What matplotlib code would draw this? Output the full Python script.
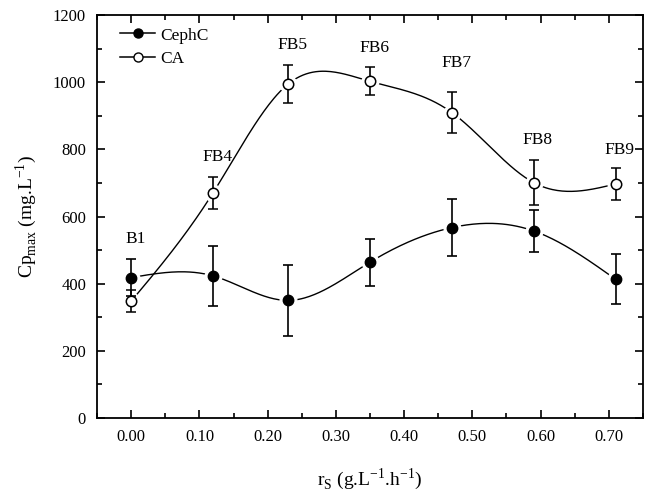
import numpy as np
import matplotlib
matplotlib.use("Agg")
import matplotlib.pyplot as plt
from matplotlib.ticker import MultipleLocator, FormatStrFormatter

plt.rcParams['font.family'] = ['Liberation Serif', 'DejaVu Serif']
plt.rcParams['mathtext.fontset'] = 'custom'
plt.rcParams['mathtext.rm'] = 'Liberation Serif'

rs = [0.00, 0.12, 0.23, 0.35, 0.47, 0.59, 0.71]
cephc = [418, 423, 350, 464, 567, 557, 413]
cephc_err = [55, 90, 105, 70, 85, 62, 75]
ca = [348, 671, 995, 1003, 910, 701, 697]
ca_err = [33, 48, 57, 42, 60, 66, 49]
labels = ['B1', 'FB4', 'FB5', 'FB6', 'FB7', 'FB8', 'FB9']
label_y = [533, 777, 1111, 1103, 1058, 828, 798]


def spline(x, y, n=300):
    # natural cubic spline through the points
    x = np.asarray(x, float)
    y = np.asarray(y, float)
    k = len(x)
    h = np.diff(x)
    A = np.zeros((k, k))
    b = np.zeros(k)
    A[0, 0] = A[-1, -1] = 1
    for i in range(1, k - 1):
        A[i, i - 1] = h[i - 1]
        A[i, i] = 2 * (h[i - 1] + h[i])
        A[i, i + 1] = h[i]
        b[i] = 6 * ((y[i + 1] - y[i]) / h[i] - (y[i] - y[i - 1]) / h[i - 1])
    M = np.linalg.solve(A, b)
    xs = np.linspace(x[0], x[-1], n)
    idx = np.clip(np.searchsorted(x, xs) - 1, 0, k - 2)
    x0, x1 = x[idx], x[idx + 1]
    hh = x1 - x0
    t0, t1 = x1 - xs, xs - x0
    ys = (M[idx] * t0 ** 3 + M[idx + 1] * t1 ** 3) / (6 * hh) \
        + (y[idx] / hh - M[idx] * hh / 6) * t0 \
        + (y[idx + 1] / hh - M[idx + 1] * hh / 6) * t1
    return xs, ys


fig, ax = plt.subplots(figsize=(6.52, 4.91), dpi=100)
fig.subplots_adjust(left=0.149, right=0.986, top=0.969, bottom=0.149)

for yv in (cephc, ca):
    xs, ys = spline(rs, yv)
    ax.plot(xs, ys, color='black', lw=1.0, zorder=2)

# white halo behind markers to break the curves like the original
ax.plot(rs, cephc, 'o', ms=12, color='white', mec='white', zorder=3)
ax.plot(rs, ca, 'o', ms=12, color='white', mec='white', zorder=3)

ax.errorbar(rs, cephc, yerr=cephc_err, fmt='o', color='black', ms=7.5,
            mfc='black', mec='black', ecolor='black', elinewidth=1.2,
            capsize=3.5, capthick=1.2, zorder=4)
ax.errorbar(rs, ca, yerr=ca_err, fmt='o', color='black', ms=7.5,
            mfc='white', mec='black', mew=1.1, ecolor='black', elinewidth=1.2,
            capsize=3.5, capthick=1.2, zorder=5)

# legend proxies
ax.plot([], [], '-o', color='black', mfc='black', ms=6.5, lw=1.1, label='CephC')
ax.plot([], [], '-o', color='black', mfc='white', ms=6.5, lw=1.1, label='CA')
ax.legend(loc='upper left', bbox_to_anchor=(0.02, 1.0), frameon=False,
          fontsize=12.5, handlelength=2.0, handletextpad=0.3,
          borderaxespad=0.3, labelspacing=0.45)

for x, y, t in zip(rs, label_y, labels):
    ax.text(x + 0.006, y, t, ha='center', va='center', fontsize=12.5)

ax.set_xlim(-0.05, 0.75)
ax.set_ylim(0, 1200)
ax.xaxis.set_major_locator(MultipleLocator(0.1))
ax.xaxis.set_minor_locator(MultipleLocator(0.05))
ax.xaxis.set_major_formatter(FormatStrFormatter('%.2f'))
ax.yaxis.set_major_locator(MultipleLocator(200))
ax.yaxis.set_minor_locator(MultipleLocator(100))
ax.tick_params(which='both', direction='in', top=True, right=True,
               width=1.2, labelsize=12, pad=8)
ax.tick_params(which='major', length=6)
ax.tick_params(which='minor', length=3.5)
for s in ax.spines.values():
    s.set_linewidth(1.3)

ax.set_xlabel(r'r$_\mathregular{S}$ (g.L$^\mathregular{-1}$.h$^\mathregular{-1}$)',
              fontsize=14, labelpad=15)
ax.set_ylabel(r'Cp$_\mathregular{max}$ (mg.L$^\mathregular{-1}$)', fontsize=14,
              labelpad=10)

fig.savefig('out.png', dpi=100)
